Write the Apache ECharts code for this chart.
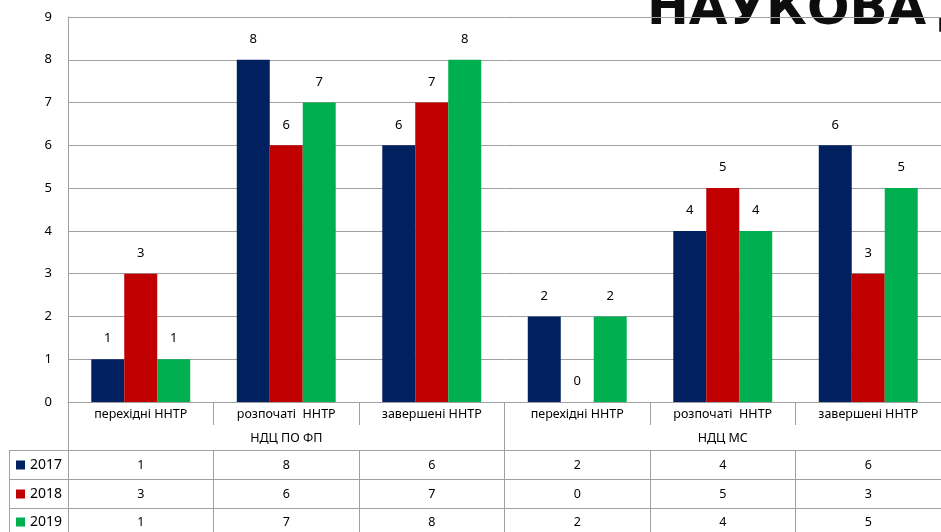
<!DOCTYPE html>
<html>
<head>
<meta charset="utf-8">
<script src="https://cdn.jsdelivr.net/npm/echarts@6/dist/echarts.min.js"></script>
<style>
html,body{margin:0;padding:0;background:#fff;}
#main{width:941px;height:532px;}
</style>
</head>
<body>
<div id="main"></div>
<script>
const categories = ['перехідні ННТР', 'розпочаті  ННТР', 'завершені ННТР', 'перехідні ННТР', 'розпочаті  ННТР', 'завершені ННТР'];
const groups = ['НДЦ ПО ФП', 'НДЦ МС'];
const seriesNames = ['2017', '2018', '2019'];
const values2017 = [1, 8, 6, 2, 4, 6];
const values2018 = [3, 6, 7, 0, 5, 3];
const values2019 = [1, 7, 8, 2, 4, 5];
const yTicks = [0, 1, 2, 3, 4, 5, 6, 7, 8, 9];
const colors = ['#002060', '#C00000', '#00B050'];
const titleText = 'НАУКОВА\u2009ДІЯЛЬНІСТЬ';

const FONT = '"Noto Sans", sans-serif';
const GRID = '#a0a0a0';
const rows = [values2017, values2018, values2019];

const chart = echarts.init(document.getElementById('main'));

function rowAxis(data, margin, formatter) {
  return {
    type: 'category', data: data, position: 'bottom', offset: 0,
    axisLine: {show: false}, axisTick: {show: false}, splitLine: {show: false},
    axisLabel: {show: true, interval: 0, margin: margin, verticalAlign: 'middle',
      color: '#000', fontSize: 12.5, fontFamily: FONT, formatter: formatter}
  };
}
function lineAxis(offset, tickLen) {
  return {
    type: 'category', data: categories, position: 'bottom', offset: offset,
    axisLine: {show: true, lineStyle: {color: GRID, width: 1}},
    axisTick: {show: tickLen > 0, interval: 0, length: tickLen, lineStyle: {color: GRID, width: 1}},
    axisLabel: {show: false}, splitLine: {show: false}
  };
}

const xAxes = [
  {
    type: 'category', data: categories, position: 'bottom',
    axisLine: {show: true, lineStyle: {color: GRID, width: 1}},
    axisTick: {show: true, interval: 0, length: 23, lineStyle: {color: GRID, width: 1}},
    axisLabel: {interval: 0, margin: 12, verticalAlign: 'middle', color: '#000', fontSize: 12.5, fontFamily: FONT}
  },
  Object.assign(rowAxis(groups, 36), {
    axisTick: {show: true, interval: 0, length: 48, lineStyle: {color: GRID, width: 1}}
  }),
  rowAxis(categories, 63, (v, i) => String(values2017[i])),
  rowAxis(categories, 92, (v, i) => String(values2018[i])),
  rowAxis(categories, 120, (v, i) => String(values2019[i])),
  lineAxis(48, 90),
  lineAxis(77, 0),
  lineAxis(106, 0)
];

const series = seriesNames.map((name, k) => ({
  name: name, type: 'bar', xAxisIndex: 0, data: rows[k],
  barGap: '0%', barCategoryGap: '32%', z: 5,
  itemStyle: {color: colors[k]},
  label: {show: true, position: 'top', distance: 14, color: '#000', fontSize: 13, fontFamily: FONT},
  emphasis: {disabled: true}
}));

const legendTops = [457, 486, 514];
const legends = seriesNames.map((name, k) => ({
  orient: 'vertical', left: 16, top: legendTops[k], padding: 0,
  itemWidth: 9, itemHeight: 9, icon: 'rect', selectedMode: false, itemGap: 0,
  textStyle: {color: '#000', fontSize: 14, fontFamily: FONT, lineHeight: 16},
  data: [name]
}));

chart.setOption({
  animation: false,
  backgroundColor: '#fff',
  grid: {left: 68, top: 17, right: -6, bottom: 130, containLabel: false},
  xAxis: xAxes,
  yAxis: {
    type: 'value', min: yTicks[0], max: yTicks[yTicks.length - 1], interval: 1, z: 2,
    axisLine: {show: true, lineStyle: {color: GRID, width: 1}},
    axisTick: {show: false},
    splitLine: {show: true, lineStyle: {color: GRID, width: 1}},
    axisLabel: {margin: 16, color: '#000', fontSize: 13, fontFamily: FONT}
  },
  legend: legends,
  graphic: [
    {type: 'text', left: 647, top: -14, z: -10, zlevel: 0, silent: true,
      style: {text: titleText, fill: '#0d0d0d', font: 'bold 50px "DejaVu Sans"'}},
    {type: 'line', silent: true, shape: {x1: 9, y1: 450.5, x2: 68, y2: 450.5}, style: {stroke: GRID, lineWidth: 1}},
    {type: 'line', silent: true, shape: {x1: 9, y1: 479.5, x2: 68, y2: 479.5}, style: {stroke: GRID, lineWidth: 1}},
    {type: 'line', silent: true, shape: {x1: 9, y1: 508.5, x2: 68, y2: 508.5}, style: {stroke: GRID, lineWidth: 1}},
    {type: 'line', silent: true, shape: {x1: 9.5, y1: 450, x2: 9.5, y2: 532}, style: {stroke: GRID, lineWidth: 1}}
  ],
  series: series
});
</script>
</body>
</html>
